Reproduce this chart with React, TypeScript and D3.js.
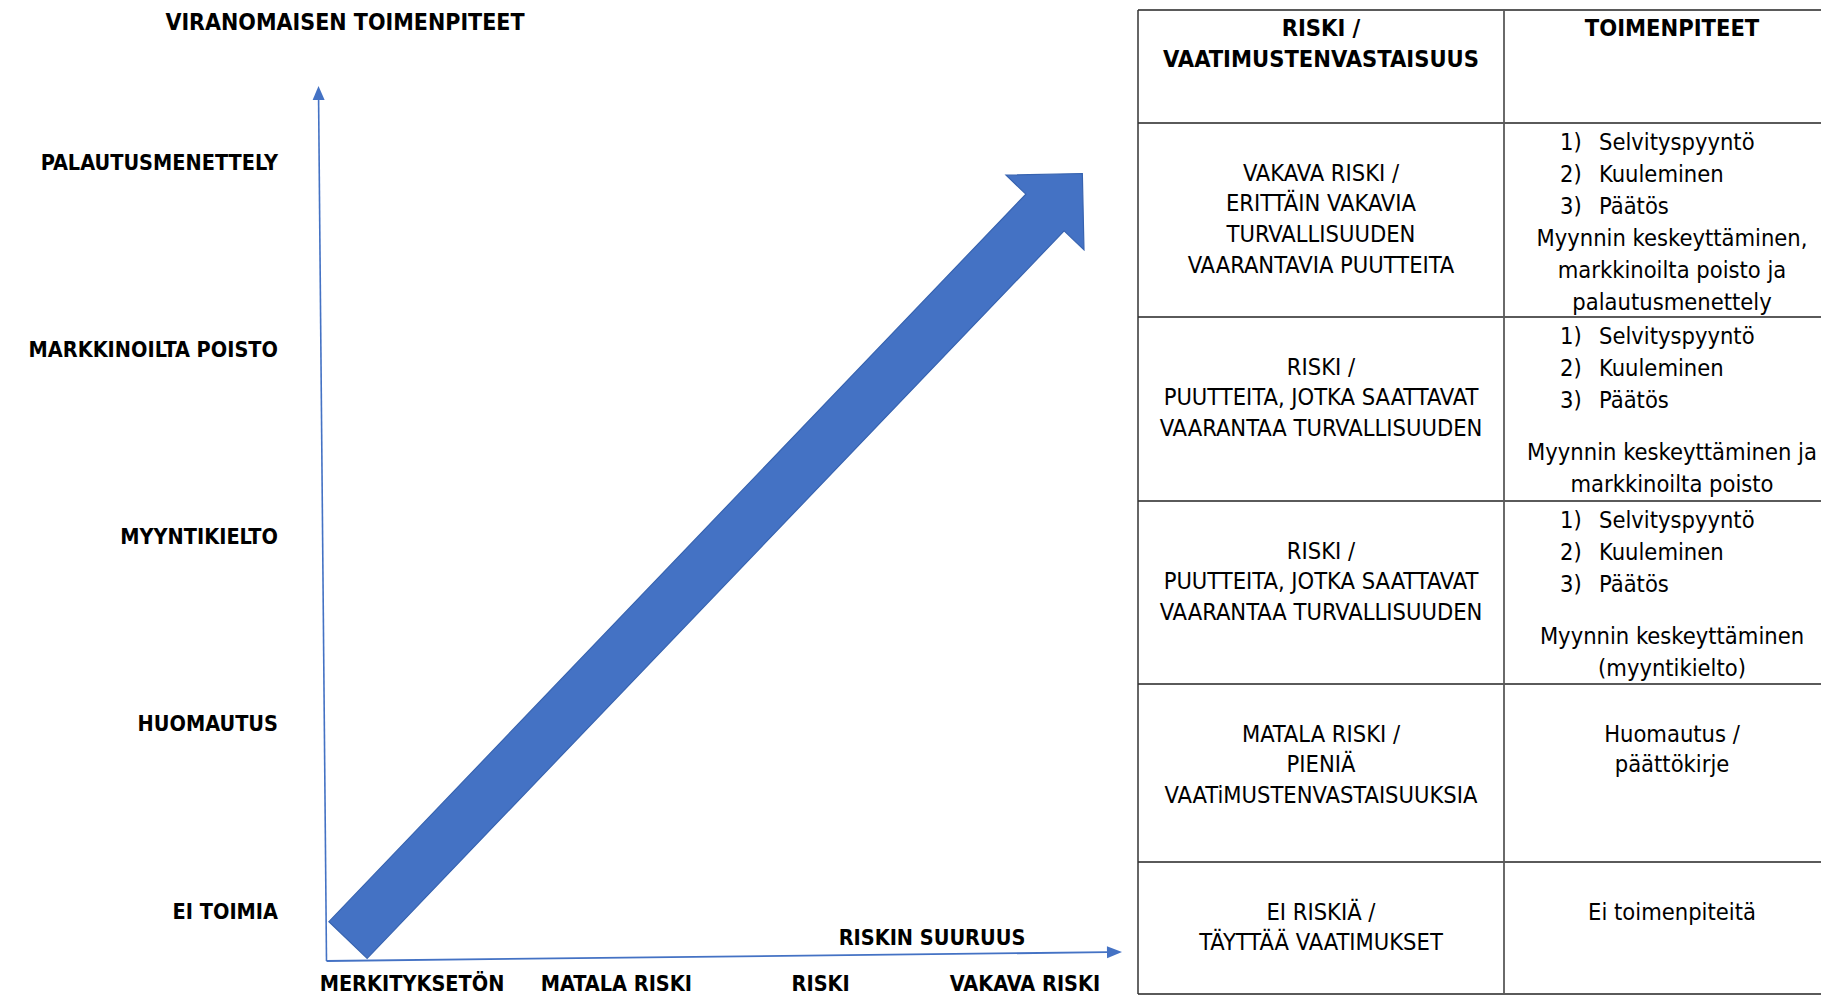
import React from "react";
import * as d3 from "d3";

// --- data ---
const actionLevels = [
  "EI TOIMIA",
  "HUOMAUTUS",
  "MYYNTIKIELTO",
  "MARKKINOILTA POISTO",
  "PALAUTUSMENETTELY",
];
const riskLevels = ["MERKITYKSETÖN", "MATALA RISKI", "RISKI", "VAKAVA RISKI"];
const yTitle = "VIRANOMAISEN TOIMENPITEET";
const xTitle = "RISKIN SUURUUS";

// big arrow, in unit coordinates of the plot (0..1 on both axes)
const arrowFrom = { risk: 0.024, action: 0.024 };
const arrowTo = { risk: 0.95, action: 0.9 };

const headerCells = [["RISKI /", "VAATIMUSTENVASTAISUUS"], ["TOIMENPITEET"]];
const riskCells = [
  ["VAKAVA RISKI /", "ERITTÄIN VAKAVIA", "TURVALLISUUDEN", "VAARANTAVIA PUUTTEITA"],
  ["RISKI /", "PUUTTEITA, JOTKA SAATTAVAT", "VAARANTAA TURVALLISUUDEN"],
  ["RISKI /", "PUUTTEITA, JOTKA SAATTAVAT", "VAARANTAA TURVALLISUUDEN"],
  ["MATALA RISKI /", "PIENIÄ", "VAATiMUSTENVASTAISUUKSIA"],
  ["EI RISKIÄ /", "TÄYTTÄÄ VAATIMUKSET"],
];
const actionCells = [
  [
    "1) Selvityspyyntö",
    "2) Kuuleminen",
    "3) Päätös",
    "Myynnin keskeyttäminen,",
    "markkinoilta poisto ja",
    "palautusmenettely",
  ],
  [
    "1) Selvityspyyntö",
    "2) Kuuleminen",
    "3) Päätös",
    "",
    "Myynnin keskeyttäminen ja",
    "markkinoilta poisto",
  ],
  [
    "1) Selvityspyyntö",
    "2) Kuuleminen",
    "3) Päätös",
    "",
    "Myynnin keskeyttäminen",
    "(myyntikielto)",
  ],
  ["Huomautus /", "päättökirje"],
  ["Ei toimenpiteitä"],
];

const W = 1821;
const H = 998;
const FONT = "'Liberation Sans Narrow', 'DejaVu Sans Condensed', 'Open Sans', sans-serif";
const BLUE = "#4472C4";

type Pt = [number, number];

function headAt(tip: Pt, from: Pt, len: number, half: number): string {
  const dx = tip[0] - from[0];
  const dy = tip[1] - from[1];
  const l = Math.hypot(dx, dy);
  const ux = dx / l;
  const uy = dy / l;
  const bx = tip[0] - ux * len;
  const by = tip[1] - uy * len;
  const pts: Pt[] = [
    tip,
    [bx - uy * half, by + ux * half],
    [bx + uy * half, by - ux * half],
  ];
  return d3.line()(pts) + "Z";
}

const App: React.FC = () => {
  // plot frame
  const x = d3.scaleLinear().domain([0, 1]).range([329, 1122]);
  const y = d3.scaleLinear().domain([0, 1]).range([961, 86]);
  const yLevel = d3.scalePoint<string>().domain(actionLevels).range([910, 161]);
  const xLevel = d3.scalePoint<string>().domain(riskLevels).range([412, 1025]);

  // axes (the drawn axes lean a little)
  const origin: Pt = [x(0) - 2.5, y(0)];
  const yTip: Pt = [x(0) - 10.5, y(1)];
  const xTip: Pt = [x(1), y(0) - 9];
  const yBase: Pt = [yTip[0] + 0.1, yTip[1] + 14];
  const xBase: Pt = [xTip[0] - 15, xTip[1] + 0.2];

  // big block arrow
  const p0: Pt = [x(arrowFrom.risk), y(arrowFrom.action)];
  const p1: Pt = [x(arrowTo.risk), y(arrowTo.action)];
  const len = Math.hypot(p1[0] - p0[0], p1[1] - p0[1]);
  const ux = (p1[0] - p0[0]) / len;
  const uy = (p1[1] - p0[1]) / len;
  const nx = -uy;
  const ny = ux;
  const shaftHalf = 26.5;
  const headHalf = 54;
  const headLen = 54;
  const base: Pt = [p1[0] - ux * headLen, p1[1] - uy * headLen];
  const arrowPts: Pt[] = [
    [p0[0] + nx * shaftHalf, p0[1] + ny * shaftHalf],
    [base[0] + nx * shaftHalf, base[1] + ny * shaftHalf],
    [base[0] + nx * headHalf, base[1] + ny * headHalf],
    p1,
    [base[0] - nx * headHalf, base[1] - ny * headHalf],
    [base[0] - nx * shaftHalf, base[1] - ny * shaftHalf],
    [p0[0] - nx * shaftHalf, p0[1] - ny * shaftHalf],
  ];
  const arrowD = d3.line()(arrowPts) + "Z";

  // table layout
  const tLeft = 1138;
  const tMid = 1504;
  const tRight = 1840;
  const rowEdges = [10, 123, 317, 501, 684, 862, 994];
  const leftC = (tLeft + tMid) / 2;
  const rightC = (tMid + tRight) / 2;
  const capHalf = 8.5;
  const tableFont = 23.5;
  const labelFont = 21.5;

  const leftRows = [headerCells[0], ...riskCells];
  const rightRows = [headerCells[1], ...actionCells];

  const renderLeft = (lines: string[], r: number) => {
    const top = rowEdges[r];
    const first = r === 0 ? 17 : 49;
    const step = r === 0 ? 31.6 : 30.7;
    return lines.map((t, i) => (
      <text
        key={`l${r}-${i}`}
        x={leftC}
        y={top + first + i * step + capHalf}
        textAnchor="middle"
        fontWeight={r === 0 ? "bold" : "normal"}
      >
        {t}
      </text>
    ));
  };

  const renderRight = (lines: string[], r: number) => {
    const top = rowEdges[r];
    const numbered = /^\d\)/.test(lines[0]);
    const first = r === 0 ? 17 : numbered ? 18 : 49;
    const step = numbered ? 32 : 30;
    let cy = top + first;
    const out: React.ReactNode[] = [];
    lines.forEach((t, i) => {
      if (t === "") {
        cy += step * 0.65;
        return;
      }
      const m = t.match(/^(\d\))\s+(.*)$/);
      if (m) {
        out.push(
          <text key={`rn${r}-${i}`} x={tMid + 56} y={cy + capHalf}>
            {m[1]}
          </text>,
          <text key={`rt${r}-${i}`} x={tMid + 95} y={cy + capHalf}>
            {m[2]}
          </text>
        );
      } else {
        out.push(
          <text
            key={`r${r}-${i}`}
            x={rightC}
            y={cy + capHalf}
            textAnchor="middle"
            fontWeight={r === 0 ? "bold" : "normal"}
          >
            {t}
          </text>
        );
      }
      cy += step;
    });
    return out;
  };

  return (
    <svg
      width={W}
      height={H}
      viewBox={`0 0 ${W} ${H}`}
      style={{ position: "absolute", left: 0, top: 0, background: "#fff" }}
      fontFamily={FONT}
    >
      <rect width={W} height={H} fill="#fff" />

      {/* titles */}
      <text x={345} y={30} textAnchor="middle" fontWeight="bold" fontSize={23} fill="#000">
        {yTitle}
      </text>
      <text x={932} y={945} textAnchor="middle" fontWeight="bold" fontSize={labelFont} fill="#000">
        {xTitle}
      </text>

      {/* axes */}
      <line x1={origin[0]} y1={origin[1]} x2={yBase[0]} y2={yBase[1]} stroke={BLUE} strokeWidth={1.6} />
      <path d={headAt(yTip, origin, 14, 6)} fill={BLUE} />
      <line x1={origin[0]} y1={origin[1]} x2={xBase[0]} y2={xBase[1]} stroke={BLUE} strokeWidth={1.8} />
      <path d={headAt(xTip, origin, 15, 6)} fill={BLUE} />

      {/* level labels */}
      {actionLevels.map((d) => (
        <text
          key={d}
          x={278}
          y={yLevel(d)! + capHalf}
          textAnchor="end"
          fontWeight="bold"
          fontSize={labelFont}
          fill="#000"
        >
          {d}
        </text>
      ))}
      {riskLevels.map((d) => (
        <text
          key={d}
          x={xLevel(d)!}
          y={991}
          textAnchor="middle"
          fontWeight="bold"
          fontSize={labelFont}
          fill="#000"
        >
          {d}
        </text>
      ))}

      {/* block arrow */}
      <path d={arrowD} fill={BLUE} stroke="#3763B0" strokeWidth={1.2} strokeLinejoin="miter" />

      {/* table */}
      <g fontSize={tableFont} fill="#000">
        {rowEdges.map((ry, i) => (
          <line key={`h${i}`} x1={tLeft} x2={tRight} y1={ry} y2={ry} stroke="#5a5a5a" strokeWidth={1.8} />
        ))}
        <line x1={tLeft} x2={tLeft} y1={rowEdges[0]} y2={rowEdges[6]} stroke="#333" strokeWidth={1.5} />
        <line x1={tMid} x2={tMid} y1={rowEdges[0]} y2={rowEdges[6]} stroke="#5a5a5a" strokeWidth={1.8} />
        {leftRows.map((lines, r) => renderLeft(lines, r))}
        {rightRows.map((lines, r) => renderRight(lines, r))}
      </g>
    </svg>
  );
};

export default App;
